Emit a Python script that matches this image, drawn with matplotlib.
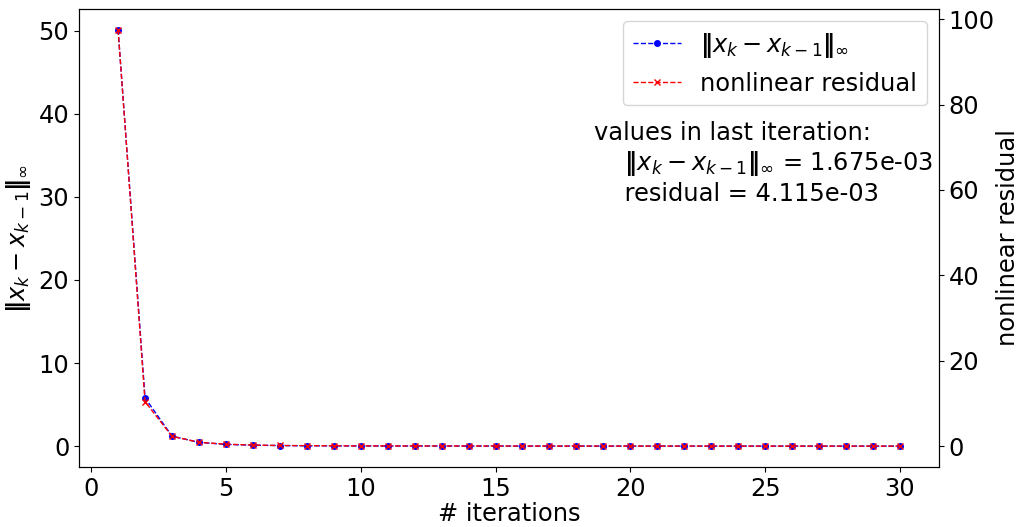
import matplotlib
matplotlib.use('Agg')
import matplotlib.pyplot as plt

# valori per iterazione
iterazioni = list(range(1, 31))
diff_inf = [50.1, 5.8, 1.2, 0.45, 0.21, 0.11, 0.065, 0.042, 0.030, 0.022,
            0.017, 0.014, 0.012, 0.010, 0.0088, 0.0078, 0.0070, 0.0063, 0.0057, 0.0049,
            0.0044, 0.0040, 0.0036, 0.0032, 0.0029, 0.0026, 0.0023, 0.0021, 0.0019, 0.001675]
residuo = [97.5, 10.4, 2.3, 0.9, 0.45, 0.25, 0.15, 0.10, 0.075, 0.058,
           0.046, 0.038, 0.032, 0.027, 0.023, 0.020, 0.017, 0.015, 0.013, 0.0115,
           0.0102, 0.0091, 0.0082, 0.0074, 0.0066, 0.0059, 0.0053, 0.0048, 0.0044, 0.004115]

norm_label = r'$\mathbf{\|} x_k - x_{k-1}\mathbf{\|}_\infty$'

plt.rcParams['font.size'] = 17.4

fig, ax = plt.subplots(figsize=(10.22, 5.27), dpi=100)
ax2 = ax.twinx()

l1, = ax.plot(iterazioni, diff_inf, '--', color='blue', marker='o', markersize=4,
              linewidth=1, label=norm_label)
l2, = ax2.plot(iterazioni, residuo, '--', color='red', marker='x', markersize=4,
               linewidth=1, label='nonlinear residual')

ax.set_xlabel('# iterations', labelpad=1)
ax.set_ylabel(norm_label)
ax2.set_ylabel('nonlinear residual', labelpad=1)
ax.set_xticks([0, 5, 10, 15, 20, 25, 30])

ax2.legend(handles=[l1, l2], loc='upper right')

testo = ('values in last iteration:\n'
         '    ' + norm_label + ' = %.3e\n' % diff_inf[-1] +
         '    residual = %.3e' % residuo[-1])
ax.text(0.599, 0.755, testo, transform=ax.transAxes, va='top', ha='left')

fig.subplots_adjust(left=0.0773, right=0.9188, top=0.983, bottom=0.114)
fig.savefig('out.png')
